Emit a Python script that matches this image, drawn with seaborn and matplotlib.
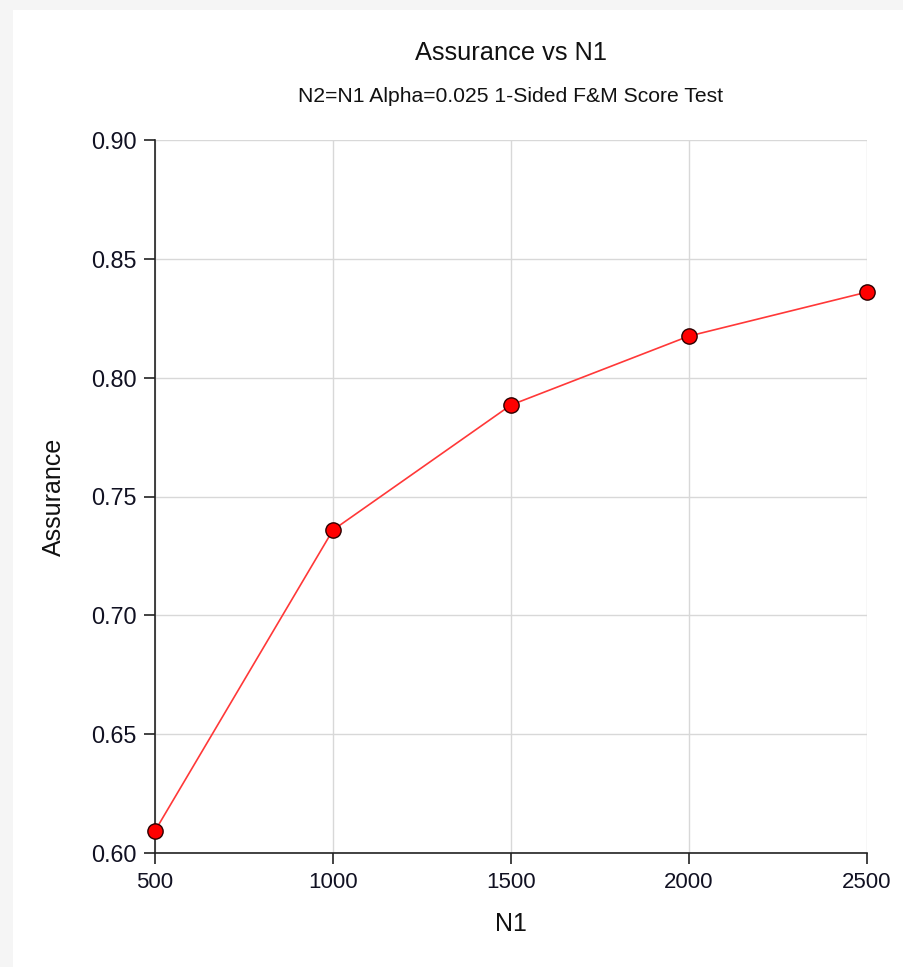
import matplotlib
matplotlib.use("Agg")
import matplotlib.pyplot as plt
import matplotlib.patches as mpatches
import seaborn as sns
import pandas as pd

n1 = [500, 1000, 1500, 2000, 2500]
assurance = [0.6093, 0.7359, 0.7885, 0.8175, 0.8360]
x_ticks = [500, 1000, 1500, 2000, 2500]
y_ticks = [0.60, 0.65, 0.70, 0.75, 0.80, 0.85, 0.90]

df = pd.DataFrame({"N1": n1, "Assurance": assurance})

sns.set_theme(style="white")
plt.rcParams["font.family"] = ["Liberation Sans", "DejaVu Sans"]

W, H = 904, 967
fig = plt.figure(figsize=(W / 100, H / 100), dpi=100)
fig.patch.set_facecolor("#f5f5f5")
bg = mpatches.Rectangle((13 / W, 0), 1 - 13 / W, 1 - 10 / H,
                        transform=fig.transFigure, facecolor="white",
                        edgecolor="none", zorder=-10)
fig.add_artist(bg)

ax = fig.add_axes([155 / W, 1 - 853 / H, (867 - 155) / W, (853 - 140) / H])
ax.set_facecolor("white")

sns.lineplot(data=df, x="N1", y="Assurance", ax=ax, color="#ff3838", linewidth=1.2,
             marker="o", markersize=11, markerfacecolor="#ff0000",
             markeredgecolor="#2a0000", markeredgewidth=1.0, zorder=3, clip_on=False)

ax.set_xlim(500, 2500)
ax.set_ylim(0.60, 0.90)
ax.set_xticks(x_ticks)
ax.set_xticklabels([str(v) for v in x_ticks])
ax.set_yticks(y_ticks)
ax.set_yticklabels([f"{v:.2f}" for v in y_ticks])

ax.grid(True, color="#d8d8d8", linewidth=1.0, zorder=0)
ax.set_axisbelow(True)
for side in ["top", "right"]:
    ax.spines[side].set_visible(False)
for side in ["left", "bottom"]:
    ax.spines[side].set_color("#222222")
    ax.spines[side].set_linewidth(1.2)

ax.tick_params(axis="both", which="major", direction="out", length=8, width=1.2,
               color="#222222", labelsize=16, labelcolor="#111122", pad=6,
               bottom=True, left=True)
ax.tick_params(axis="y", labelsize=16.8, pad=5)

ax.set_xlabel("N1", fontsize=18, color="#111111")
ax.set_ylabel("Assurance", fontsize=18, color="#111111")
ax.xaxis.set_label_coords(0.5, -(924 - 853) / (853 - 140), transform=ax.transAxes)
ax.yaxis.set_label_coords(-(155 - 54) / (867 - 155), 0.5, transform=ax.transAxes)
ax.xaxis.label.set_va("center")
ax.yaxis.label.set_va("center")

cx = (155 + 867) / 2 / W
fig.text(cx, 1 - 60 / H, "Assurance vs N1", ha="center", va="baseline",
         fontsize=18.3, color="#111111")
fig.text(cx, 1 - 102 / H, "N2=N1 Alpha=0.025 1-Sided F&M Score Test",
         ha="center", va="baseline", fontsize=15.2, color="#111111")

fig.savefig("out.png", dpi=100, facecolor=fig.get_facecolor())
